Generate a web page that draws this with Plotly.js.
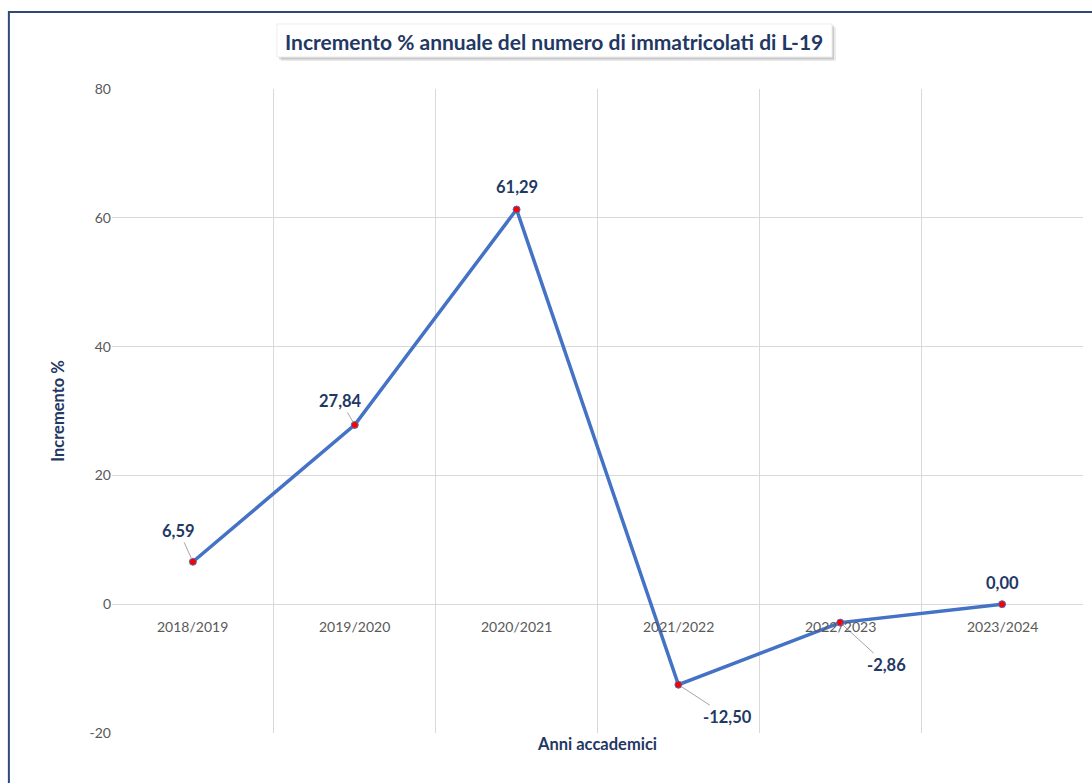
<!DOCTYPE html>
<html>
<head>
<meta charset="utf-8">
<script src="https://cdn.plot.ly/plotly-3.0.1.min.js"></script>
<style>html,body{margin:0;padding:0;background:#fff;}#chart{width:1092px;height:783px;}</style>
</head>
<body>
<div id="chart"></div>
<script>
const categories = ["2018/2019","2019/2020","2020/2021","2021/2022","2022/2023","2023/2024"];
const values = [6.59, 27.84, 61.29, -12.50, -2.86, 0.00];
const labels = ["6,59","27,84","61,29","-12,50","-2,86","0,00"];
const yTicks = [-20, 0, 20, 40, 60, 80];

const navy = "#1f3864";
const FONT = "Lato, 'Open Sans', sans-serif";
const xIdx = categories.map((c, i) => i);

// label offsets (pixels) relative to point
const labelStyle = [
  {ax: -14, ay: -31, arrow: true},
  {ax: -14, ay: -24, arrow: true},
  {ax: 0, ay: -22, arrow: false},
  {ax: 49, ay: 32, arrow: true},
  {ax: 46, ay: 42, arrow: true},
  {ax: 0, ay: -21, arrow: false}
];

const annotations = [];
values.forEach((v, i) => {
  const s = labelStyle[i];
  const f = {family: FONT, size: 16.5, color: navy, weight: "bold"};
  if (s.arrow) {
    annotations.push({
      x: xIdx[i], y: v, xref: "x", yref: "y", text: labels[i],
      showarrow: true, arrowhead: 0, arrowwidth: 1, arrowcolor: "#a6a6a6",
      ax: s.ax, ay: s.ay, standoff: 3, font: f
    });
  } else {
    annotations.push({
      x: xIdx[i], y: v, xref: "x", yref: "y", text: labels[i],
      showarrow: false, yshift: -s.ay, font: f
    });
  }
});
categories.forEach((c, i) => {
  annotations.push({
    x: xIdx[i], y: 0, xref: "x", yref: "y", text: c, showarrow: false,
    yanchor: "top", yshift: -12,
    font: {family: FONT, size: 14, color: "#595959"}
  });
});
annotations.push({
  x: 0.4553, y: 1, xref: "paper", yref: "paper", yanchor: "middle",
  yshift: 48, text: "<b>Incremento % annuale del numero di immatricolati di L-19</b>",
  showarrow: false, font: {family: FONT, size: 21, color: navy}
});

const gridX = [];
for (let i = 0; i <= categories.length; i++) gridX.push(i - 0.5);

const trace = {
  x: xIdx, y: values, type: "scatter", mode: "lines+markers",
  line: {color: "#4472c4", width: 3.5},
  marker: {color: "#ff0000", size: 7, line: {color: "#4472c4", width: 1}},
  hoverinfo: "skip"
};

const layout = {
  width: 1092, height: 783,
  margin: {l: 112, r: 9, t: 89, b: 50},
  paper_bgcolor: "#ffffff", plot_bgcolor: "#ffffff",
  showlegend: false,
  xaxis: {
    range: [-0.5, 5.5], tickvals: gridX, ticktext: gridX.map(() => ""),
    showgrid: true, gridcolor: "#d9d9d9", gridwidth: 1,
    zeroline: false, showline: false, ticks: "", fixedrange: true,
    title: {text: "<b>Anni accademici</b>", font: {family: FONT, size: 16.5, color: navy}, standoff: 5}
  },
  yaxis: {
    range: [-20, 80], tickvals: yTicks, ticktext: yTicks.map(String),
    showgrid: true, gridcolor: "#d9d9d9", gridwidth: 1,
    zeroline: true, zerolinecolor: "#d9d9d9", zerolinewidth: 1,
    showline: false, ticks: "", ticklen: 0,
    tickfont: {family: FONT, size: 14, color: "#595959"},
    title: {text: "<b>Incremento %</b>", font: {family: FONT, size: 16.5, color: navy}, standoff: 20}
  },
  annotations: annotations,
  shapes: [
    // chart border
    {type: "rect", xref: "paper", yref: "paper", x0: -0.1062, x1: 1.2, y0: -0.2, y1: 1.1196,
     line: {color: "#2f4a7a", width: 2}, fillcolor: "rgba(0,0,0,0)", layer: "above"},
    // title shadow
    {type: "rect", xref: "paper", yref: "paper", x0: 0.1740, x1: 0.7456, y0: 1.0435, y1: 1.0960,
     line: {width: 0}, fillcolor: "rgba(0,0,0,0.08)", layer: "below"},
    {type: "rect", xref: "paper", yref: "paper", x0: 0.1720, x1: 0.7436, y0: 1.0460, y1: 1.0985,
     line: {width: 0}, fillcolor: "rgba(0,0,0,0.14)", layer: "below"},
    // title box
    {type: "rect", xref: "paper", yref: "paper", x0: 0.1699, x1: 0.7415, y0: 1.0497, y1: 1.1010,
     line: {color: "#ececec", width: 1}, fillcolor: "#ffffff", layer: "below"}
  ]
};

Plotly.newPlot("chart", [trace], layout, {displayModeBar: false, staticPlot: true});
</script>
</body>
</html>
